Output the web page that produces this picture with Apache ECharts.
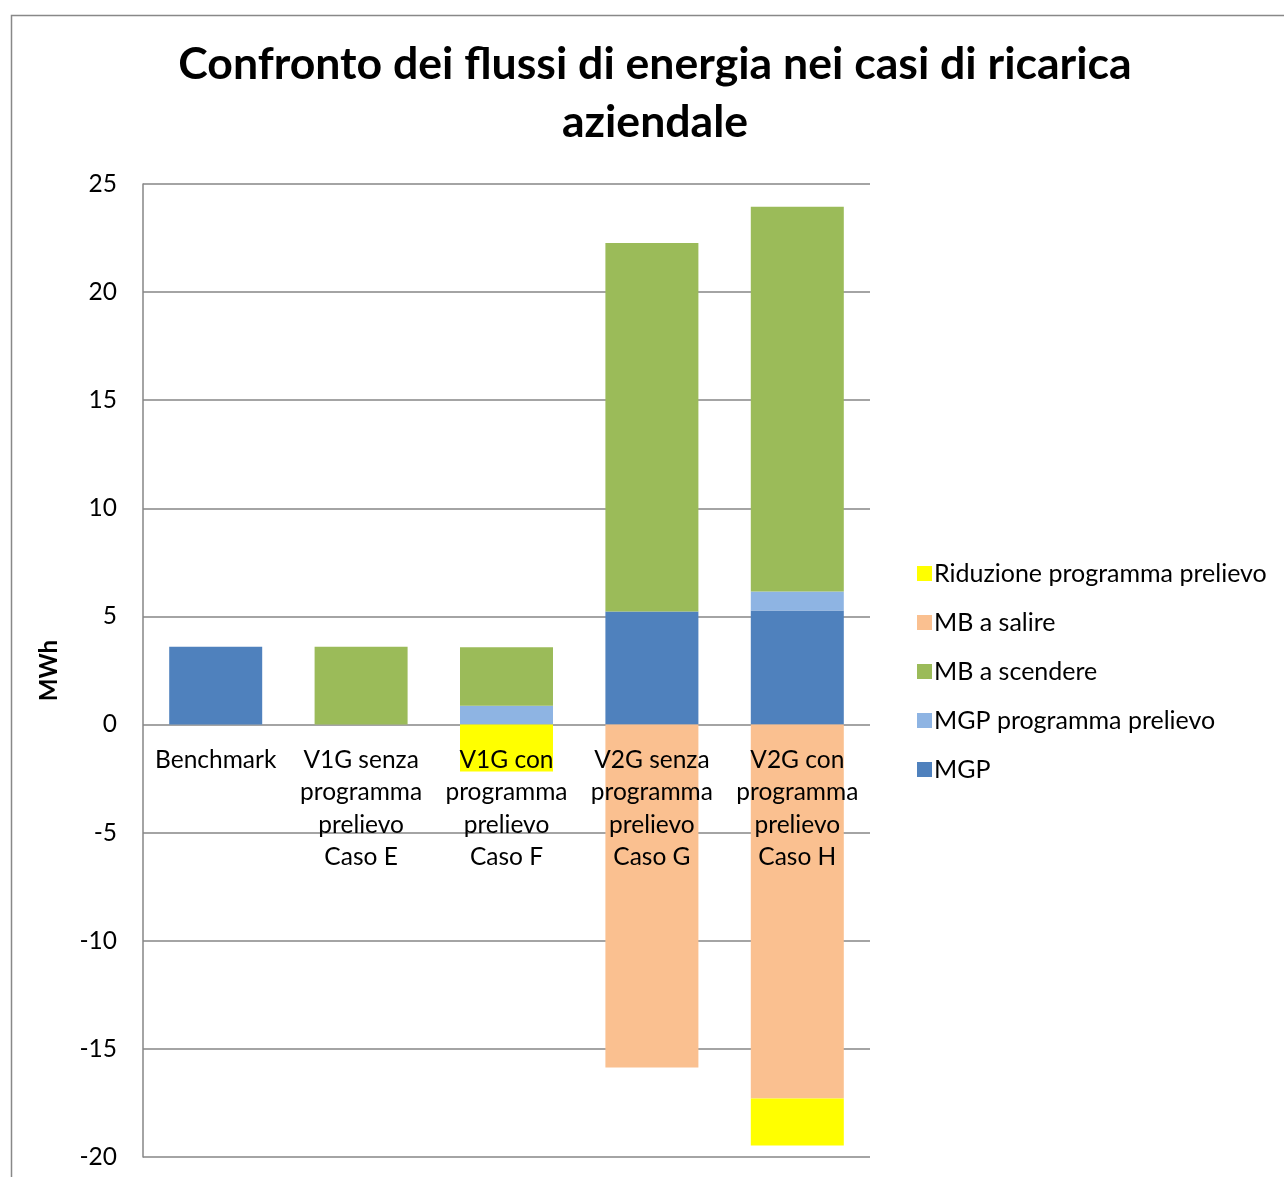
<!DOCTYPE html>
<html>
<head>
<meta charset="utf-8">
<script src="https://cdn.jsdelivr.net/npm/echarts@6/dist/echarts.min.js"></script>
<style>
  html, body { margin: 0; padding: 0; background: #fff; }
  #chart { width: 1284px; height: 1177px; }
</style>
</head>
<body>
<div id="chart"></div>
<script>
// categorie e valori (MWh)
const categories = [
  'Benchmark',
  'V1G senza\nprogramma\nprelievo\nCaso E',
  'V1G con\nprogramma\nprelievo\nCaso F',
  'V2G senza\nprogramma\nprelievo\nCaso G',
  'V2G con\nprogramma\nprelievo\nCaso H'
]
const mgp = [3.6, 0, 0, 5.23, 5.27]
const mgpProgramma = [0, 0, 0.87, 0, 0.88]
const mbScendere = [0, 3.6, 2.7, 17.04, 17.8]
const mbSalire = [0, 0, 0, -15.86, -17.3]
const riduzione = [0, 0, -2.17, 0, -2.17]
const yTicks = [-20, -15, -10, -5, 0, 5, 10, 15, 20, 25]

const FONT = 'Lato'
const GRID_TOP = 184
const GRID_BOTTOM = 20
const CHART_H = 1177

const chart = echarts.init(document.getElementById('chart'))

// distanza in px tra il bordo alto della griglia e la linea dello zero
const yMin = yTicks[0]
const yMax = yTicks[yTicks.length - 1]
const zeroOffset = (CHART_H - GRID_TOP - GRID_BOTTOM) * yMax / (yMax - yMin)

function bar(name, data, color) {
  return {
    name,
    type: 'bar',
    stack: 'tot',
    barWidth: 93,
    data,
    itemStyle: { color },
    emphasis: { disabled: true }
  }
}

chart.setOption({
  animation: false,
  textStyle: { fontFamily: FONT },
  title: {
    text: 'Confronto dei flussi di energia nei casi di ricarica\naziendale',
    left: 650,
    top: 31,
    textAlign: 'center',
    textStyle: { fontFamily: FONT, fontSize: 44.6, fontWeight: 'bold', color: '#000', lineHeight: 58 }
  },
  graphic: [{
    type: 'rect',
    left: 9, top: 13,
    shape: { width: 1400, height: 1300 },
    style: { fill: 'none', stroke: '#888', lineWidth: 1.5 },
    silent: true
  }],
  legend: {
    orient: 'vertical',
    left: 912,
    top: 556,
    itemWidth: 15,
    itemHeight: 15,
    itemGap: 24,
    icon: 'rect',
    data: ['Riduzione programma prelievo', 'MB a salire', 'MB a scendere', 'MGP programma prelievo', 'MGP'],
    textStyle: { fontFamily: FONT, fontSize: 25, lineHeight: 24, color: '#000', padding: [0, 0, 0, -3] }
  },
  grid: { left: 143, right: 414, top: GRID_TOP, bottom: GRID_BOTTOM, containLabel: false, outerBoundsMode: 'none' },
  xAxis: {
    type: 'category',
    data: categories,
    position: 'top',
    offset: -zeroOffset,
    z: 10,
    axisLine: { show: false, onZero: false },
    axisTick: { show: false },
    axisLabel: {
      inside: true,
      interval: 0,
      margin: 19,
      fontSize: 24.5,
      lineHeight: 32.5,
      color: '#000',
      fontFamily: FONT
    }
  },
  yAxis: {
    type: 'value',
    min: yMin,
    max: yMax,
    interval: 5,
    name: 'MWh',
    nameLocation: 'middle',
    nameGap: 82,
    nameRotate: 90,
    nameTextStyle: { fontFamily: FONT, fontSize: 24, fontWeight: 'bold', color: '#000' },
    axisLine: { show: true, lineStyle: { color: '#868686', width: 1.5 } },
    axisTick: { show: false },
    axisLabel: { fontSize: 24.5, color: '#000', margin: 26, fontFamily: FONT },
    splitLine: { show: true, lineStyle: { color: '#868686', width: 1.5 } }
  },
  series: [
    bar('MGP', mgp, '#4F81BD'),
    bar('MGP programma prelievo', mgpProgramma, '#8EB4E3'),
    bar('MB a scendere', mbScendere, '#9BBB59'),
    bar('MB a salire', mbSalire, '#FAC090'),
    bar('Riduzione programma prelievo', riduzione, '#FFFF00')
  ]
})
</script>
</body>
</html>
